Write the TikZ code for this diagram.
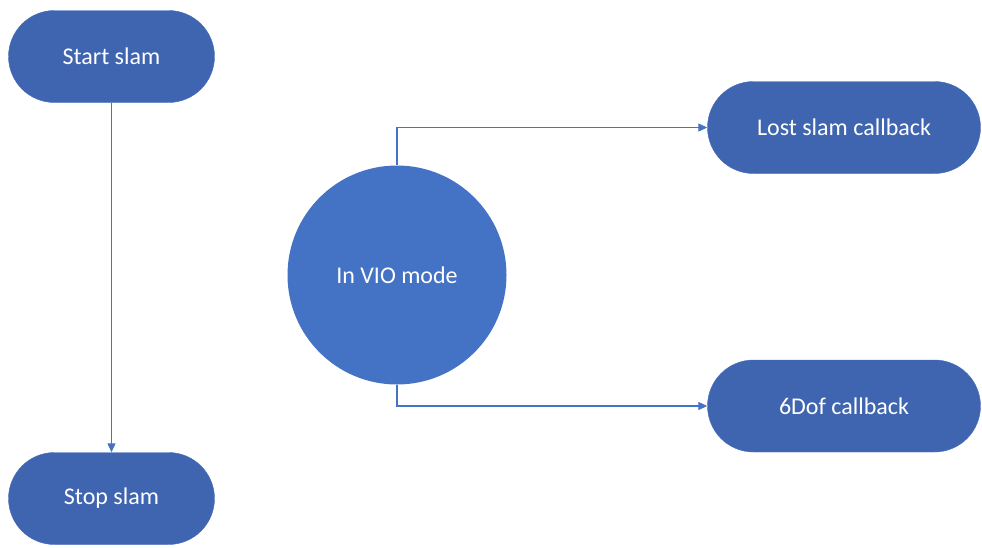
\documentclass[tikz,border=0pt]{standalone}
\usepackage{fontspec}
\setmainfont{Carlito}
\usepackage{xcolor}
\usepackage{tikz}
\usetikzlibrary{arrows.meta}
\definecolor{VIOBlue}{HTML}{4472C4}
\definecolor{PillBlue}{HTML}{3F65B0}

\begin{document}
\begin{tikzpicture}[x=1pt, y=-1pt,
		pill/.style={draw=VIOBlue!80!PillBlue, fill=PillBlue, text=white, rounded corners=46pt, minimum height=92pt, inner sep=0pt, font=\fontsize{24}{28}\selectfont},
		flow/.style={draw=VIOBlue, line width=1.1pt, -{Triangle[length=9pt, width=8pt]}}]
				\useasboundingbox (0,0) rectangle (982,547);

				\foreach \name/\txt/\x/\y/\w in {start/Start slam/111.5/56.5/206, stop/Stop slam/111.5/498.5/206, lost/Lost slam callback/844/127.5/273, dof/6Dof callback/844/406/273} {
					\node[pill, minimum width=\w pt] (\name) at (\x,\y) {\txt};
				}

				\node[circle, fill=VIOBlue, text=white, minimum size=219pt, inner sep=0pt, font=\fontsize{24}{28}\selectfont] (vio) at (397,275) {In VIO mode};

				\draw[flow] (start) -- (stop);
				\draw[flow] (vio.north) |- (lost.west);
				\draw[flow] (vio.south) |- (dof.west);

			\end{tikzpicture}
\end{document}
